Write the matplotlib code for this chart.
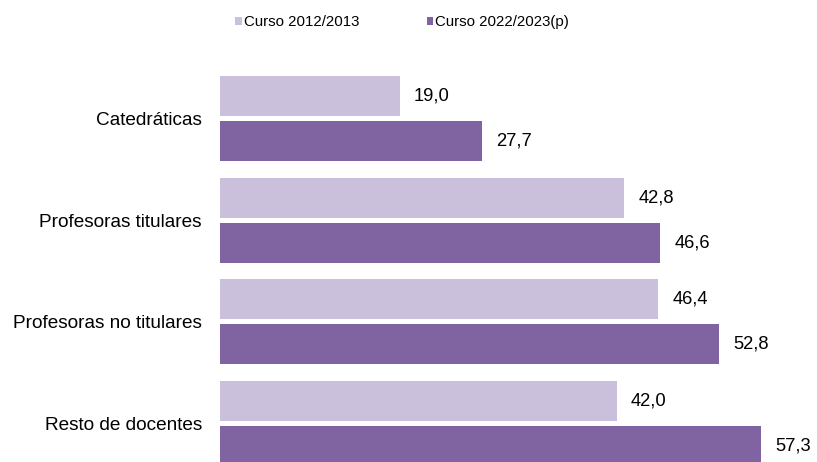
import matplotlib
matplotlib.use("Agg")
import matplotlib.pyplot as plt
import numpy as np

plt.rcParams['font.family'] = ['Liberation Sans', 'DejaVu Sans']

categories = ["Catedráticas", "Profesoras titulares", "Profesoras no titulares", "Resto de docentes"]
series_names = ["Curso 2012/2013", "Curso 2022/2023(p)"]
values_2012 = [19.0, 42.8, 46.4, 42.0]
values_2022 = [27.7, 46.6, 52.8, 57.3]

c_light = "#CBC0DB"
c_dark = "#8064A2"

W, H = 817, 462
fig = plt.figure(figsize=(W / 100, H / 100), dpi=100)
ax = fig.add_axes([220 / W, 0, 565 / W, (462 - 60) / H])

y = np.arange(len(categories))
h = 0.393
off = 0.221
b1 = ax.barh(y - off, values_2012, height=h, color=c_light, label=series_names[0])
b2 = ax.barh(y + off, values_2022, height=h, color=c_dark, label=series_names[1])

for bars, vals in ((b1, values_2012), (b2, values_2022)):
    for rect, v in zip(bars, vals):
        ax.annotate(f"{v:.1f}".replace(".", ","),
                    xy=(rect.get_width(), rect.get_y() + rect.get_height() / 2),
                    xytext=(14, 0), textcoords="offset pixels",
                    ha="left", va="center", fontsize=13.2, color="#000000",
                    annotation_clip=False)

ax.set_xlim(0, 59.8)
ax.set_ylim(3.378, -0.575)
ax.set_yticks(y)
ax.set_yticklabels(categories, fontsize=13.7)
ax.tick_params(axis="y", length=0, pad=13)
ax.set_xticks([])
for s in ax.spines.values():
    s.set_visible(False)

fig.legend(handles=[b1, b2], labels=series_names, loc="center", ncol=2,
           bbox_to_anchor=(402 / W, 1 - 22 / H), frameon=False, fontsize=10.8,
           handlelength=0.45, handleheight=0.45, handletextpad=0.12, columnspacing=4.5)

fig.savefig("out.png", dpi=100)
